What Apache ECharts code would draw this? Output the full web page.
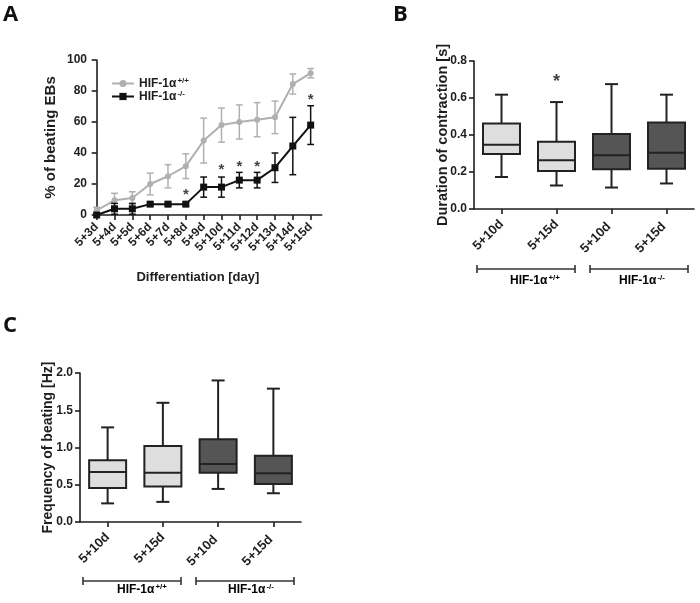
<!DOCTYPE html>
<html>
<head>
<meta charset="utf-8">
<script src="https://cdn.jsdelivr.net/npm/echarts@6/dist/echarts.min.js"></script>
<style>html,body{margin:0;padding:0;background:#fff}#c{width:700px;height:603px}</style>
</head>
<body>
<div id="c"></div>
<script>
// ---------- Data ----------
const daysA = ['5+3d','5+4d','5+5d','5+6d','5+7d','5+8d','5+9d','5+10d','5+11d','5+12d','5+13d','5+14d','5+15d'];
const wtMean = [3, 9.5, 11, 20, 25, 31.5, 48, 58, 60, 61.5, 63, 84.5, 91.5];
const wtErr  = [2, 4.5, 4, 7, 7.5, 8, 14.5, 11, 11, 11, 10.5, 6.5, 3];
const koMean = [0, 4, 4, 7, 7, 7, 18, 18, 22.5, 22.5, 30.5, 44.5, 58];
const koErr  = [0, 3.5, 3.5, 1, 1, 1, 6.5, 6.5, 5, 5, 9.5, 18.5, 12.5];
const starsA = [[5, 15], [7, 31], [8, 33], [9, 33], [12, 76]];

const boxCats = ['5+10d', '5+15d', '5+10d ', '5+15d '];
// [min, Q1, median, Q3, max]
const durationBoxes = [
  [0.173, 0.297, 0.347, 0.462, 0.618],
  [0.127, 0.205, 0.264, 0.364, 0.578],
  [0.116, 0.215, 0.291, 0.405, 0.675],
  [0.138, 0.218, 0.304, 0.467, 0.618]
];
const starsB = [[1, 0.70]];
const frequencyBoxes = [
  [0.25, 0.455, 0.67, 0.83, 1.27],
  [0.27, 0.475, 0.66, 1.02, 1.60],
  [0.444, 0.66, 0.78, 1.11, 1.90],
  [0.386, 0.51, 0.655, 0.89, 1.79]
];
const groupNames = ['+/+', '-/-'];

// ---------- Styles ----------
const FONT = '"Liberation Sans", Arial, sans-serif';
const AX = '#1e1e1e';
const GRAY = '#b0b0b0';
const BLACK = '#111111';
const LIGHT_FILL = '#dedede';
const DARK_FILL = '#555555';

function errRender(color) {
  return function (params, api) {
    const x = api.value(0);
    const pLo = api.coord([x, api.value(1)]);
    const pHi = api.coord([x, api.value(2)]);
    const hw = 3.4;
    const st = { stroke: color, lineWidth: 1.5 };
    return { type: 'group', children: [
      { type: 'line', shape: { x1: pHi[0], y1: pHi[1], x2: pLo[0], y2: pLo[1] }, style: st },
      { type: 'line', shape: { x1: pHi[0] - hw, y1: pHi[1], x2: pHi[0] + hw, y2: pHi[1] }, style: st },
      { type: 'line', shape: { x1: pLo[0] - hw, y1: pLo[1], x2: pLo[0] + hw, y2: pLo[1] }, style: st }
    ]};
  };
}

function boxRender(params, api) {
  const i = api.value(0);
  const mn = api.coord([i, api.value(1)]);
  const q1 = api.coord([i, api.value(2)]);
  const md = api.coord([i, api.value(3)]);
  const q3 = api.coord([i, api.value(4)]);
  const mx = api.coord([i, api.value(5)]);
  const cx = md[0];
  const bw = 37, cw = 13;
  const fill = i < 2 ? LIGHT_FILL : DARK_FILL;
  const ln = { stroke: '#222', lineWidth: 2 };
  return { type: 'group', children: [
    { type: 'line', shape: { x1: cx, y1: mx[1], x2: cx, y2: q3[1] }, style: ln },
    { type: 'line', shape: { x1: cx, y1: q1[1], x2: cx, y2: mn[1] }, style: ln },
    { type: 'line', shape: { x1: cx - cw / 2, y1: mx[1], x2: cx + cw / 2, y2: mx[1] }, style: ln },
    { type: 'line', shape: { x1: cx - cw / 2, y1: mn[1], x2: cx + cw / 2, y2: mn[1] }, style: ln },
    { type: 'rect', shape: { x: cx - bw / 2, y: q3[1], width: bw, height: q1[1] - q3[1] }, style: { fill: fill, stroke: '#222', lineWidth: 2 } },
    { type: 'line', shape: { x1: cx - bw / 2, y1: md[1], x2: cx + bw / 2, y2: md[1] }, style: ln }
  ]};
}

function valAxis(gi, min, max, interval, dec, name, gap, nsize) {
  return {
    type: 'value', gridIndex: gi, min: min, max: max, interval: interval,
    name: name, nameLocation: 'middle', nameGap: gap, nameMoveOverlap: false,
    nameTextStyle: { fontFamily: FONT, fontWeight: 'bold', fontSize: nsize, color: AX },
    axisLine: { show: true, lineStyle: { color: AX, width: 1.6 } },
    axisTick: { show: true, length: 5, lineStyle: { color: AX, width: 1.6 } },
    splitLine: { show: false },
    axisLabel: { fontFamily: FONT, fontWeight: 'bold', fontSize: 12, color: AX, margin: 7,
      formatter: v => dec ? v.toFixed(dec) : String(v) }
  };
}
function catAxis(gi, data, fs) {
  return {
    type: 'category', gridIndex: gi, data: data, boundaryGap: true,
    axisLine: { show: true, lineStyle: { color: AX, width: 1.6 } },
    axisTick: { show: true, alignWithLabel: true, length: 5, lineStyle: { color: AX, width: 1.6 } },
    axisLabel: { rotate: 45, interval: 0, fontFamily: FONT, fontWeight: 'bold', fontSize: fs, color: AX, margin: 13 }
  };
}

const idxA = daysA.map((d, i) => i);
const xAxisA = {
  type: 'value', gridIndex: 0, min: -0.15, max: 12.62,
  name: 'Differentiation [day]', nameLocation: 'middle', nameGap: 56, nameMoveOverlap: false,
  nameTextStyle: { fontFamily: FONT, fontWeight: 'bold', fontSize: 13, color: AX, padding: [0, 20, 0, 0] },
  splitLine: { show: false },
  axisLine: { show: true, lineStyle: { color: AX, width: 1.6 } },
  axisTick: { show: true, length: 5, customValues: idxA, lineStyle: { color: AX, width: 1.6 } },
  axisLabel: { rotate: 45, customValues: idxA, formatter: v => daysA[Math.round(v)],
    fontFamily: FONT, fontWeight: 'bold', fontSize: 12, color: AX, margin: 10 }
};

const chart = echarts.init(document.getElementById('c'), null, { renderer: 'canvas' });

const supRich = {
  b: { fontFamily: FONT, fontWeight: 'bold', fontSize: 12, color: AX },
  s: { fontFamily: FONT, fontWeight: 'bold', fontSize: 8, color: AX, verticalAlign: 'top', padding: [0, 0, 6, 1] }
};

function bracket(x1, x2, y, lx, ly, sup) {
  return [
    { type: 'line', shape: { x1: x1, y1: y, x2: x2, y2: y }, style: { stroke: '#333', lineWidth: 1.6 } },
    { type: 'line', shape: { x1: x1, y1: y - 4, x2: x1, y2: y + 4 }, style: { stroke: '#333', lineWidth: 1.6 } },
    { type: 'line', shape: { x1: x2, y1: y - 4, x2: x2, y2: y + 4 }, style: { stroke: '#333', lineWidth: 1.6 } },
    { type: 'text', x: lx, y: ly, style: { text: '{b|HIF-1α}{s|' + sup + '}', rich: supRich, align: 'center', verticalAlign: 'middle' } }
  ];
}

const panelLabel = (t, x, y) => ({ type: 'text', x: x, y: y, style: { text: t, fontFamily: '"Open Sans", ' + FONT, fontWeight: 'bold', fontSize: 22, fill: '#111' } });

const option = {
  animation: false,
  backgroundColor: '#ffffff',
  grid: [
    { left: 94, top: 60, width: 227.7, height: 155 },
    { left: 474, top: 61, width: 220, height: 148 },
    { left: 80, top: 373, width: 221, height: 149 }
  ],
  legend: {
    left: 106, top: 72, orient: 'vertical', itemGap: 0, itemWidth: 22, itemHeight: 9,
    data: ['wt', 'ko'],
    formatter: n => n === 'wt' ? '{b|HIF-1α}{s|+/+}' : '{b|HIF-1α}{s|-/-}',
    textStyle: { rich: supRich, lineHeight: 13 }
  },
  xAxis: [
    xAxisA,
    catAxis(1, boxCats, 13),
    catAxis(2, boxCats, 13)
  ],
  yAxis: [
    valAxis(0, 0, 100, 20, 0, '% of beating EBs', 36, 15),
    valAxis(1, 0, 0.8, 0.2, 1, 'Duration of contraction [s]', 24, 14.5),
    valAxis(2, 0, 2.0, 0.5, 1, 'Frequency of beating [Hz]', 25, 14)
  ],
  series: [
    { type: 'custom', xAxisIndex: 0, yAxisIndex: 0, renderItem: errRender(GRAY), z: 1,
      data: wtMean.map((m, i) => [i, m - wtErr[i], m + wtErr[i]]) },
    { name: 'wt', type: 'line', xAxisIndex: 0, yAxisIndex: 0, data: wtMean.map((m, i) => [i, m]), z: 2,
      symbol: 'circle', symbolSize: 6, itemStyle: { color: GRAY }, lineStyle: { color: GRAY, width: 2 } },
    { type: 'custom', xAxisIndex: 0, yAxisIndex: 0, renderItem: errRender(BLACK), z: 3,
      data: koMean.map((m, i) => [i, m - koErr[i], m + koErr[i]]) },
    { name: 'ko', type: 'line', xAxisIndex: 0, yAxisIndex: 0, data: koMean.map((m, i) => [i, m]), z: 4,
      symbol: 'rect', symbolSize: 7, itemStyle: { color: BLACK }, lineStyle: { color: BLACK, width: 2 } },
    { type: 'scatter', xAxisIndex: 0, yAxisIndex: 0, data: starsA, symbolSize: 0, z: 5,
      label: { show: true, position: 'inside', formatter: '*', fontFamily: FONT, fontWeight: 'bold', fontSize: 15, color: '#111', offset: [0, 3] } },
    { type: 'custom', xAxisIndex: 1, yAxisIndex: 1, renderItem: boxRender,
      data: durationBoxes.map((b, i) => [i].concat(b)) },
    { type: 'scatter', xAxisIndex: 1, yAxisIndex: 1, data: starsB, symbolSize: 0,
      label: { show: true, position: 'inside', formatter: '*', fontFamily: FONT, fontWeight: 'bold', fontSize: 18, color: '#111', offset: [0, 3] } },
    { type: 'custom', xAxisIndex: 2, yAxisIndex: 2, renderItem: boxRender,
      data: frequencyBoxes.map((b, i) => [i].concat(b)) }
  ],
  graphic: [
    panelLabel('A', 3, 4),
    panelLabel('B', 393, 4),
    panelLabel('C', 3, 315)
  ].concat(
    bracket(477, 575, 269, 535, 281, groupNames[0]),
    bracket(590, 688, 269, 642, 281, groupNames[1]),
    bracket(83, 181, 581, 142, 590, groupNames[0]),
    bracket(196, 294, 581, 251, 590, groupNames[1])
  )
};
chart.setOption(option);
</script>
</body>
</html>
